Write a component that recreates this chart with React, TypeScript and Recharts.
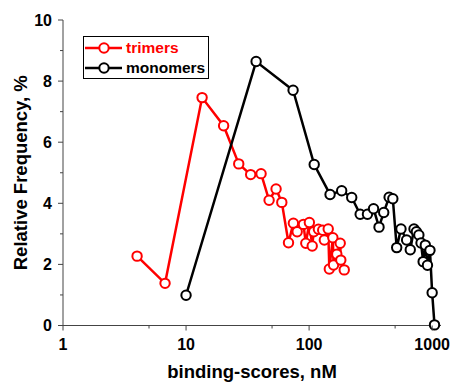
import { LineChart, Line, XAxis, YAxis, Legend, Label } from "recharts";

// binding score (nM) / relative frequency (%)
const trimerScores = [
  4.0, 6.75, 13.5, 20.2, 26.8, 33.5, 40.7, 47.3, 53.9, 60, 68, 74.5, 80, 90, 94,
  100.5, 106, 109, 119, 129, 133, 143, 146, 156, 158, 168, 179, 181, 193,
];
const trimerFreq = [
  2.27, 1.38, 7.46, 6.54, 5.29, 4.94, 4.97, 4.1, 4.47, 4.03, 2.71, 3.35, 3.07, 3.31, 2.69,
  3.37, 2.6, 3.07, 3.15, 3.12, 2.8, 3.16, 1.85, 2.87, 1.98, 2.33, 2.69, 2.14, 1.82,
];

const monomerScores = [
  10, 37.1, 74.1, 110, 148, 184, 222, 260, 298, 334, 370, 404, 447, 479, 515, 558, 620,
  664, 712, 745, 780, 812, 845, 880, 916, 960, 1000, 1045,
];
const monomerFreq = [
  0.99, 8.64, 7.7, 5.27, 4.29, 4.41, 4.19, 3.64, 3.64, 3.82, 3.22, 3.7, 4.2, 4.15, 2.55, 3.16, 2.8,
  2.48, 3.16, 3.07, 2.96, 2.7, 2.09, 2.63, 1.97, 2.46, 1.07, 0.02,
];

const xTicks = [1, 5, 10, 50, 100, 500, 1000];
const xMajor = [1, 10, 100, 1000];
const yTicks = [0, 1, 2, 3, 4, 5, 6, 7, 8, 9, 10];
const yMajor = [0, 2, 4, 6, 8, 10];

const trimers = trimerScores.map((x, i) => ({ x, y: trimerFreq[i] }));
const monomers = monomerScores.map((x, i) => ({ x, y: monomerFreq[i] }));

const AXIS = "#444";
const FONT = "'Liberation Sans', Arial, sans-serif";
const tickFont = { fontFamily: FONT, fontWeight: 700, fontSize: 16, fill: "#000" };
const titleFont = { fontFamily: FONT, fontWeight: 700, fontSize: 18.5, fill: "#000" };

function BottomTick({ x, y, payload }: any) {
  const major = xMajor.includes(payload.value);
  return (
    <g>
      <line x1={x} x2={x} y1={y} y2={y + (major ? 5 : 3)} stroke={AXIS} />
      {major && (
        <text x={x} y={y + 24} textAnchor="middle" style={tickFont}>
          {payload.value}
        </text>
      )}
    </g>
  );
}

function TopTick({ x, y, payload }: any) {
  const major = xMajor.includes(payload.value);
  return <line x1={x} x2={x} y1={y} y2={y + (major ? 4 : 3)} stroke={AXIS} />;
}

function LeftTick({ x, y, payload }: any) {
  const major = yMajor.includes(payload.value);
  return (
    <g>
      <line x1={x - (major ? 5 : 3)} x2={x} y1={y} y2={y} stroke={AXIS} />
      {major && (
        <text x={x - 11} y={y} dy="0.36em" textAnchor="end" style={tickFont}>
          {payload.value}
        </text>
      )}
    </g>
  );
}

function RightTick({ x, y, payload }: any) {
  const major = yMajor.includes(payload.value);
  return <line x1={x - (major ? 4 : 3)} x2={x} y1={y} y2={y} stroke={AXIS} />;
}

function LegendRow({ label, color, top }: { label: string; color: string; top: number }) {
  return (
    <div style={{ position: "absolute", left: 0, top, height: 16, display: "flex", alignItems: "center" }}>
      <svg width={40} height={16} style={{ display: "block" }}>
        <line x1={1} x2={38} y1={8} y2={8} stroke={color} strokeWidth={2.5} />
        <circle cx={20} cy={8} r={4.7} stroke={color} strokeWidth={2} fill="#fff" />
      </svg>
      <span style={{ marginLeft: 2, color, fontFamily: FONT, fontWeight: 700, fontSize: 15.5, lineHeight: "16px" }}>
        {label}
      </span>
    </div>
  );
}

function LegendBox() {
  return (
    <div style={{ position: "relative", width: 124, height: 41, border: "1px solid #000", background: "#fff" }}>
      <LegendRow label="trimers" color="#ff0000" top={3} />
      <LegendRow label="monomers" color="#000" top={23} />
    </div>
  );
}

export default function App() {
  return (
    <div style={{ position: "fixed", left: 0, top: 0, width: 450, height: 383, background: "#fff" }}>
      <LineChart width={450} height={383} margin={{ top: 20, right: 9, bottom: 0, left: 8 }}>
        <XAxis
          xAxisId="b"
          dataKey="x"
          type="number"
          scale="log"
          domain={[1, 1180]}
          allowDataOverflow
          ticks={xTicks}
          interval={0}
          height={57.5}
          tickSize={0}
          tickMargin={0}
          tickLine={false}
          axisLine={{ stroke: AXIS }}
          tick={<BottomTick />}
        >
          <Label
            content={({ viewBox }: any) => (
              <text x={viewBox.x + viewBox.width / 2} y={viewBox.y + 52.5} textAnchor="middle" style={titleFont}>
                binding-scores, nM
              </text>
            )}
          />
        </XAxis>
        <XAxis
          xAxisId="t"
          orientation="top"
          dataKey="x"
          type="number"
          scale="log"
          domain={[1, 1180]}
          allowDataOverflow
          ticks={xTicks}
          interval={0}
          height={0}
          tickSize={0}
          tickMargin={0}
          tickLine={false}
          axisLine={{ stroke: AXIS }}
          tick={<TopTick />}
        />
        <YAxis
          yAxisId="l"
          type="number"
          domain={[0, 10]}
          ticks={yTicks}
          interval={0}
          width={55}
          tickSize={0}
          tickMargin={0}
          tickLine={false}
          axisLine={{ stroke: AXIS }}
          tick={<LeftTick />}
        >
          <Label
            content={({ viewBox }: any) => {
              const cx = viewBox.x + 18.5;
              const cy = viewBox.y + viewBox.height / 2;
              return (
                <text x={cx} y={cy} textAnchor="middle" transform={`rotate(-90 ${cx} ${cy})`} style={titleFont}>
                  Relative Frequency, %
                </text>
              );
            }}
          />
        </YAxis>
        <YAxis
          yAxisId="r"
          orientation="right"
          type="number"
          domain={[0, 10]}
          ticks={yTicks}
          interval={0}
          width={0}
          tickSize={0}
          tickMargin={0}
          tickLine={false}
          axisLine={{ stroke: AXIS }}
          tick={<RightTick />}
        />
        <Legend
          layout="horizontal"
          verticalAlign="middle"
          content={() => <LegendBox />}
          wrapperStyle={{ left: 83, top: 36, width: 126, height: 43 }}
        />
        <Line
          xAxisId="b"
          yAxisId="l"
          data={trimers}
          dataKey="y"
          name="trimers"
          stroke="#ff0000"
          strokeWidth={2.5}
          dot={{ r: 4.7, stroke: "#ff0000", strokeWidth: 2, fill: "#fff" }}
          isAnimationActive={false}
        />
        <Line
          xAxisId="b"
          yAxisId="l"
          data={monomers}
          dataKey="y"
          name="monomers"
          stroke="#000"
          strokeWidth={2.5}
          dot={{ r: 4.7, stroke: "#000", strokeWidth: 2, fill: "#fff" }}
          isAnimationActive={false}
        />
      </LineChart>
    </div>
  );
}
